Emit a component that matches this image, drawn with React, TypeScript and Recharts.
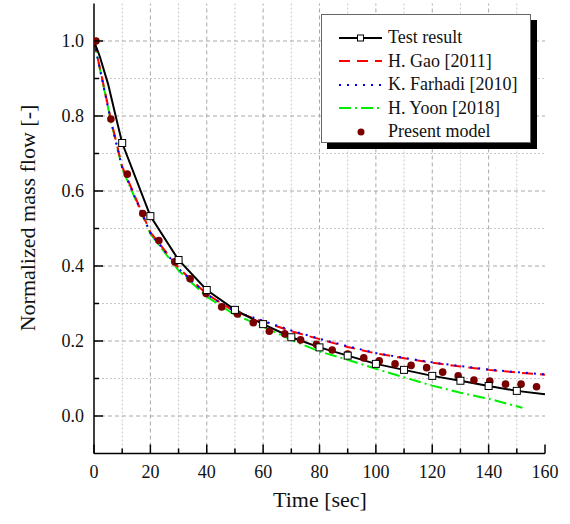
import React from "react"
import {
    ComposedChart,
    Line,
    Scatter,
    XAxis,
    YAxis,
    ReferenceLine,
    Legend,
    Label,
} from "recharts"

// time axis ticks (every 10 s, labels every 20 s)
const xTicks = [0, 10, 20, 30, 40, 50, 60, 70, 80, 90, 100, 110, 120, 130, 140, 150, 160]
const yTicks = [0, 0.1, 0.2, 0.3, 0.4, 0.5, 0.6, 0.7, 0.8, 0.9, 1.0]

// Test result (black line, open squares every 10 s)
const testTime = [0, 2, 5, 8, 10, 20, 30, 40, 50, 60, 70, 80, 90, 100, 110, 120, 130, 140, 150, 160]
const testValue = [1.0, 0.96, 0.885, 0.79, 0.728, 0.533, 0.416, 0.336, 0.283, 0.245, 0.21, 0.183, 0.161, 0.139, 0.123, 0.107, 0.094, 0.08, 0.067, 0.058]

// H. Gao [2011]
const gaoTime = [0, 3, 6, 10, 20, 30, 40, 50, 60, 70, 80, 90, 100, 110, 120, 130, 140, 150, 160]
const gaoValue = [1.0, 0.896, 0.79, 0.665, 0.49, 0.395, 0.325, 0.278, 0.252, 0.226, 0.205, 0.184, 0.167, 0.154, 0.142, 0.132, 0.123, 0.116, 0.11]

// K. Farhadi [2010]
const farhadiTime = [0, 3, 6, 10, 20, 30, 40, 50, 60, 70, 80, 90, 100, 110, 120, 130, 140, 150, 160]
const farhadiValue = [1.0, 0.893, 0.787, 0.662, 0.488, 0.393, 0.324, 0.279, 0.254, 0.228, 0.206, 0.186, 0.168, 0.155, 0.143, 0.133, 0.124, 0.117, 0.111]

// H. Yoon [2018]
const yoonTime = [0, 3, 6, 10, 20, 30, 40, 50, 60, 70, 80, 90, 100, 110, 120, 130, 140, 152]
const yoonValue = [1.0, 0.893, 0.787, 0.66, 0.486, 0.388, 0.318, 0.27, 0.238, 0.203, 0.172, 0.15, 0.126, 0.103, 0.081, 0.062, 0.046, 0.022]

// Present model (dots)
const modelTime = [0.7, 6, 11.8, 17.3, 23, 28.7, 34.1, 39.8, 45.3, 50.9, 56.5, 62.2, 67.7, 73.3, 78.9, 84.5, 90, 95.7, 101.2, 106.8, 112.5, 118, 123.7, 129.2, 134.8, 140.4, 146, 151.5, 157]
const modelValue = [1.0, 0.792, 0.645, 0.54, 0.468, 0.411, 0.366, 0.327, 0.291, 0.272, 0.249, 0.226, 0.219, 0.203, 0.191, 0.176, 0.165, 0.155, 0.147, 0.139, 0.135, 0.129, 0.117, 0.107, 0.096, 0.093, 0.085, 0.085, 0.078]

const toPoints = (ts: number[], vs: number[]) => ts.map((t, i) => ({ t, v: vs[i] }))

const FONT = "'Liberation Serif', 'Times New Roman', serif"
const DOT_COLOR = "#7a0000"

const isMajorX = (v: number) => v % 20 === 0
const isMajorY = (v: number) => Math.round(v * 10) % 2 === 0

const BottomTick = ({ x, y, payload }: any) => {
    const major = isMajorX(payload.value)
    return (
        <g>
            <line x1={x} x2={x} y1={y} y2={y - (major ? 9 : 5)} stroke="#000" strokeWidth={1.5} />
            {major && (
                <text x={x} y={y + 24} textAnchor="middle" fontSize={18} fontFamily={FONT} fill="#111">
                    {payload.value}
                </text>
            )}
        </g>
    )
}

const TopTick = ({ x, y, payload }: any) => (
    <line x1={x} x2={x} y1={y} y2={y + (isMajorX(payload.value) ? 9 : 5)} stroke="#000" strokeWidth={1.5} />
)

const LeftTick = ({ x, y, payload }: any) => {
    const major = isMajorY(payload.value)
    return (
        <g>
            <line x1={x} x2={x + (major ? 9 : 5)} y1={y} y2={y} stroke="#000" strokeWidth={1.5} />
            {major && (
                <text x={x - 10} y={y + 6} textAnchor="end" fontSize={18} fontFamily={FONT} fill="#111">
                    {payload.value.toFixed(1)}
                </text>
            )}
        </g>
    )
}

const RightTick = ({ x, y, payload }: any) => (
    <line x1={x} x2={x - (isMajorY(payload.value) ? 9 : 5)} y1={y} y2={y} stroke="#000" strokeWidth={1.5} />
)

const SquareDot = ({ cx, cy, payload }: any) => {
    if (payload.t % 10 !== 0 || payload.t === 0 || payload.t === 160) return <g key={`sq-${payload.t}`} />
    return <rect key={`sq-${payload.t}`} x={cx - 3.5} y={cy - 3.5} width={7} height={7} fill="#fff" stroke="#000" strokeWidth={1} />
}

const ModelDot = ({ cx, cy }: any) => <circle cx={cx} cy={cy} r={3.8} fill={DOT_COLOR} />

const legendItems = [
    { name: "Test result", color: "#000", dash: "", marker: "square" },
    { name: "H. Gao [2011]", color: "#ff0000", dash: "11 7", marker: "" },
    { name: "K. Farhadi [2010]", color: "#0000ff", dash: "2 6", marker: "" },
    { name: "H. Yoon [2018]", color: "#00ee00", dash: "12 4 2 4", marker: "" },
    { name: "Present model", color: DOT_COLOR, dash: "", marker: "dot" },
]

const renderLegend = () => (
    <div
        style={{
            width: 210,
            height: 129,
            boxSizing: "border-box",
            border: "1px solid #666",
            background: "#fff",
            boxShadow: "6px 6px 0 #000",
            paddingTop: 11,
            fontFamily: FONT,
            fontSize: 18,
            color: "#111",
        }}
    >
        {legendItems.map((item) => (
            <div key={item.name} style={{ display: "flex", alignItems: "center", height: 23.5 }}>
                <svg width={66} height={12} style={{ flexShrink: 0 }}>
                    {item.marker !== "dot" && (
                        <line x1={17} x2={60} y1={6} y2={6} stroke={item.color} strokeWidth={2} strokeDasharray={item.dash} />
                    )}
                    {item.marker === "square" && <rect x={35.5} y={3} width={6} height={6} fill="#fff" stroke="#000" strokeWidth={1} />}
                    {item.marker === "dot" && <circle cx={39} cy={6} r={3.5} fill={DOT_COLOR} />}
                </svg>
                <span style={{ whiteSpace: "nowrap" }}>{item.name}</span>
            </div>
        ))}
    </div>
)

export default function App() {
    return (
        <div style={{ width: 570, height: 524, position: "relative", background: "#fff" }}>
            <style>{`body{margin:0}`}</style>
            <ComposedChart
                width={570}
                height={524}
                margin={{ top: 3.5, right: 25, bottom: 0, left: 0 }}
            >
                <XAxis
                    dataKey="t"
                    type="number"
                    domain={[0, 160]}
                    ticks={xTicks}
                    interval={0}
                    allowDataOverflow
                    height={70.5}
                    tickSize={0}
                    tickMargin={0}
                    tickLine={false}
                    axisLine={{ stroke: "#000", strokeWidth: 1.5 }}
                    tick={<BottomTick />}
                >
                    <Label
                        content={() => (
                            <text x={320} y={507} textAnchor="middle" fontSize={22} fontFamily={FONT} fill="#111">
                                Time [sec]
                            </text>
                        )}
                    />
                </XAxis>
                <XAxis
                    xAxisId="top"
                    orientation="top"
                    type="number"
                    domain={[0, 160]}
                    ticks={xTicks}
                    interval={0}
                    height={0}
                    tickSize={0}
                    tickMargin={0}
                    tickLine={false}
                    axisLine={{ stroke: "#000", strokeWidth: 1.5 }}
                    tick={<TopTick />}
                />
                <YAxis
                    type="number"
                    domain={[-0.1, 1.1]}
                    ticks={yTicks}
                    interval={0}
                    allowDataOverflow
                    width={94}
                    tickSize={0}
                    tickMargin={0}
                    tickLine={false}
                    axisLine={{ stroke: "#000", strokeWidth: 1.5 }}
                    tick={<LeftTick />}
                >
                    <Label
                        content={() => (
                            <text
                                x={27}
                                y={218}
                                transform="rotate(-90 27 218)"
                                textAnchor="middle"
                                dominantBaseline="central"
                                fontSize={22}
                                fontFamily={FONT}
                                fill="#111"
                            >
                                Normalized mass flow [-]
                            </text>
                        )}
                    />
                </YAxis>
                <YAxis
                    yAxisId="right"
                    orientation="right"
                    type="number"
                    domain={[-0.1, 1.1]}
                    ticks={yTicks}
                    interval={0}
                    width={0}
                    tickSize={0}
                    tickMargin={0}
                    tickLine={false}
                    axisLine={{ stroke: "#000", strokeWidth: 1.5 }}
                    tick={<RightTick />}
                />

                {/* grid: dashed at major ticks, dotted at minor ones */}
                {xTicks.slice(1, -1).map((t) => (
                    <ReferenceLine
                        key={`gx-${t}`}
                        x={t}
                        stroke={isMajorX(t) ? "#a8a8a8" : "#c8c8c8"}
                        strokeDasharray={isMajorX(t) ? "4 3" : "2 2"}
                        strokeWidth={1}
                    />
                ))}
                {yTicks.map((v) => (
                    <ReferenceLine
                        key={`gy-${v}`}
                        y={v}
                        stroke={isMajorY(v) ? "#a8a8a8" : "#c8c8c8"}
                        strokeDasharray={isMajorY(v) ? "4 3" : "2 2"}
                        strokeWidth={1}
                    />
                ))}

                <Line data={toPoints(yoonTime, yoonValue)} dataKey="v" stroke="#00ee00" strokeWidth={2} strokeDasharray="12 4 2 4" dot={false} isAnimationActive={false} />
                <Line data={toPoints(gaoTime, gaoValue)} dataKey="v" stroke="#ff0000" strokeWidth={2} strokeDasharray="11 7" dot={false} isAnimationActive={false} />
                <Line data={toPoints(farhadiTime, farhadiValue)} dataKey="v" stroke="#0000ff" strokeWidth={2} strokeDasharray="2 6" dot={false} isAnimationActive={false} />
                <Line data={toPoints(testTime, testValue)} dataKey="v" stroke="#000" strokeWidth={2} dot={<SquareDot />} isAnimationActive={false} />
                <Scatter data={toPoints(modelTime, modelValue)} dataKey="v" shape={<ModelDot />} isAnimationActive={false} />

                <Legend
                    layout="vertical"
                    align="center"
                    verticalAlign="middle"
                    content={renderLegend}
                    wrapperStyle={{ left: 321, top: 14, width: 210, height: 129 }}
                />
            </ComposedChart>
        </div>
    )
}
